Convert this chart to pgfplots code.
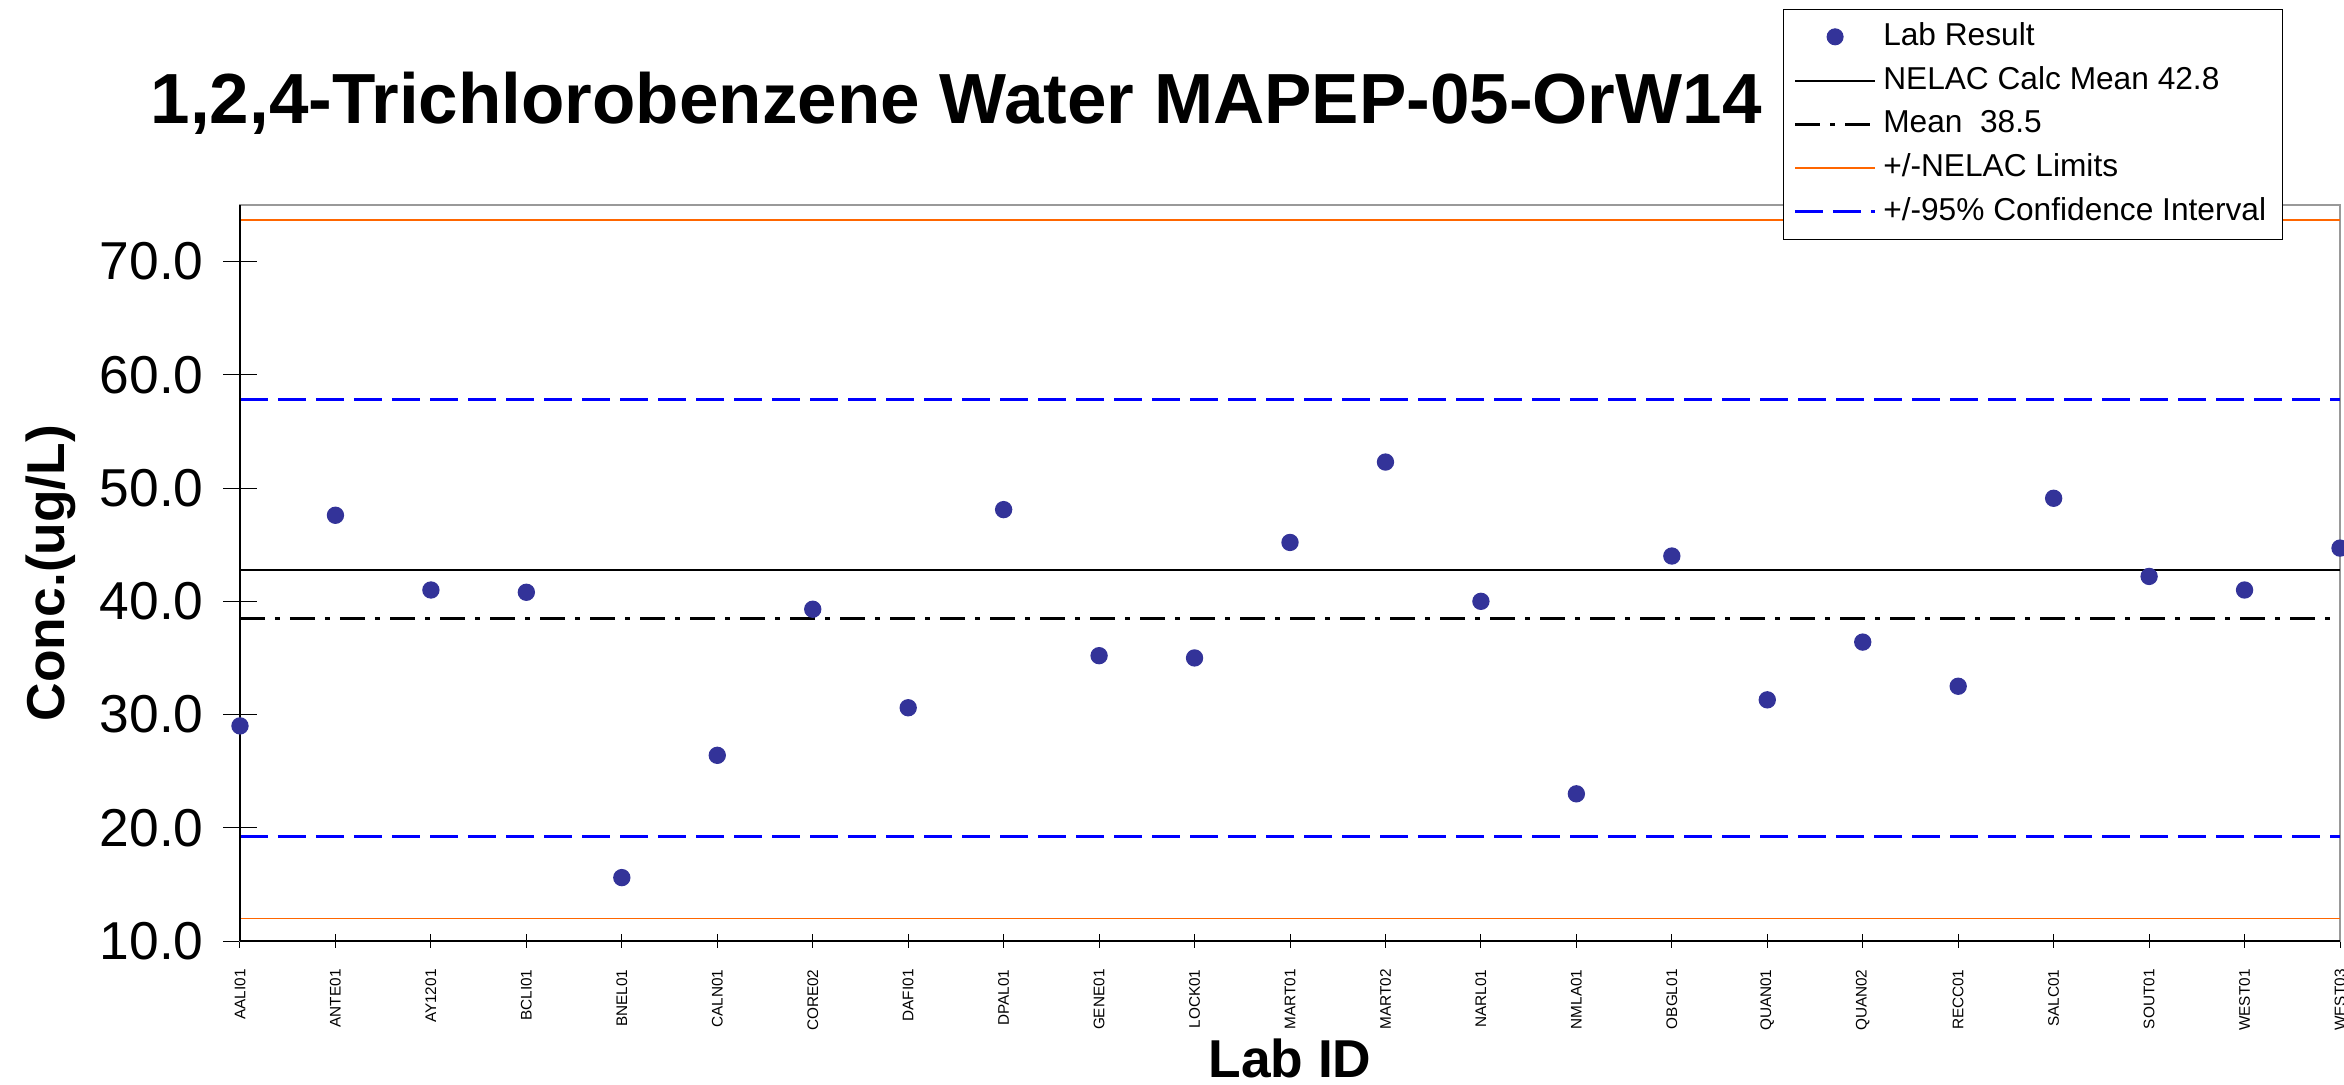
\documentclass[border=0pt]{standalone}
\usepackage{pgfplots}
\pgfplotsset{compat=1.18}
\usepackage{fontspec}
\setmainfont{Liberation Sans}
\definecolor{labblue}{RGB}{51,51,153}
\definecolor{nelacorange}{RGB}{255,102,0}
\definecolor{ciblue}{RGB}{0,0,255}
\pgfplotsset{
  markonlylegend/.style={legend image code/.code={\draw[##1] plot coordinates {(12pt,0pt)};}},
  linelegend/.style={legend image code/.code={\draw[##1] (0pt,0pt) -- (24pt,0pt);}},
}
\begin{document}
\begin{tikzpicture}
\begin{axis}[
  scale only axis,
  width=630pt, height=220.8pt,
  xmin=0, xmax=22, ymin=10, ymax=75,
  xtick={0,1,...,22},
  xticklabels={AALI01,ANTE01,AY1201,BCLI01,BNEL01,CALN01,CORE02,DAFI01,DPAL01,GENE01,LOCK01,MART01,MART02,NARL01,NMLA01,OBGL01,QUAN01,QUAN02,RECC01,SALC01,SOUT01,WEST01,WEST03},
  ytick={10,20,30,40,50,60,70},
  /pgf/number format/assume math mode=true,
  tick pos=left,
  tick align=center,
  major tick length=10pt,
  xtick style={/pgfplots/major tick length=4pt},
  tick style={black, line width=0.3pt},
  x tick label style={rotate=90, anchor=east, font=\fontsize{4.6}{5}\selectfont},
  y tick label style={font=\fontsize{16}{18}\selectfont, xshift=-2.4pt, /pgf/number format/fixed, /pgf/number format/fixed zerofill, /pgf/number format/precision=1},
  axis line style={draw=gray!80, line width=0.5pt},
  title={\textbf{1,2,4-Trichlorobenzene Water MAPEP-05-OrW14}},
  title style={at={(rel axis cs:-0.0429,1.1114)}, anchor=west, font=\fontsize{21.3}{24}\selectfont, inner sep=0pt},
  xlabel={\textbf{Lab ID}},
  ylabel={\textbf{Conc.(ug/L)}},
  every axis x label/.style={at={(rel axis cs:0.5,-0.159)}, anchor=center, font=\fontsize{16}{18}\selectfont},
  every axis y label/.style={at={(rel axis cs:-0.0900,0.5)}, rotate=90, anchor=center, font=\fontsize{16}{18}\selectfont},
  legend style={at={(rel axis cs:0.7348,1.2663)}, anchor=north west, draw=black, line width=0.3pt, fill=white,
    row sep=0.8pt, inner xsep=3pt, inner ysep=2pt,
    cells={font=\fontsize{9.5}{11}\selectfont}},
  legend cell align=left,
  linelegend,
  clip=false,
]
\addplot[only marks, mark=*, mark size=2.4pt, color=labblue, markonlylegend]
  coordinates {
  (0,29.0) (1,47.6) (2,41.0) (3,40.8) (4,15.6) (5,26.4) (6,39.3) (7,30.6)
  (8,48.1) (9,35.2) (10,35.0) (11,45.2) (12,52.3) (13,40.0) (14,23.0) (15,44.0)
  (16,31.3) (17,36.4) (18,32.5) (19,49.1) (20,42.2) (21,41.0) (22,44.7)};
\addlegendentry{Lab Result}
\addplot[black, line width=0.6pt] coordinates {(0,42.8) (22,42.8)};
\addlegendentry{NELAC Calc Mean 42.8}
\addplot[black, line width=0.9pt, dash pattern=on 7.5pt off 3pt on 1.5pt off 3pt] coordinates {(0,38.5) (22,38.5)};
\addlegendentry{Mean~ 38.5}
\addplot[nelacorange, line width=0.5pt] coordinates {(0,73.7) (22,73.7)};
\addlegendentry{+/-NELAC Limits}
\addplot[nelacorange, line width=0.5pt, forget plot] coordinates {(0,12.0) (22,12.0)};
\addplot[ciblue, line width=0.9pt, dash pattern=on 8.4pt off 3pt] coordinates {(0,57.8) (22,57.8)};
\addlegendentry{+/-95\% Confidence Interval}
\addplot[ciblue, line width=0.9pt, dash pattern=on 8.4pt off 3pt, forget plot] coordinates {(0,19.2) (22,19.2)};
\draw[black, line width=0.5pt] (rel axis cs:0,0) -- (rel axis cs:0,1);
\draw[black, line width=0.6pt] (rel axis cs:0,0) -- (rel axis cs:1,0);
\end{axis}
\pgfresetboundingbox
\path (current axis.south west) ++(-72pt,-42.9pt) rectangle ++(703.2pt,325.2pt);
\end{tikzpicture}
\end{document}
